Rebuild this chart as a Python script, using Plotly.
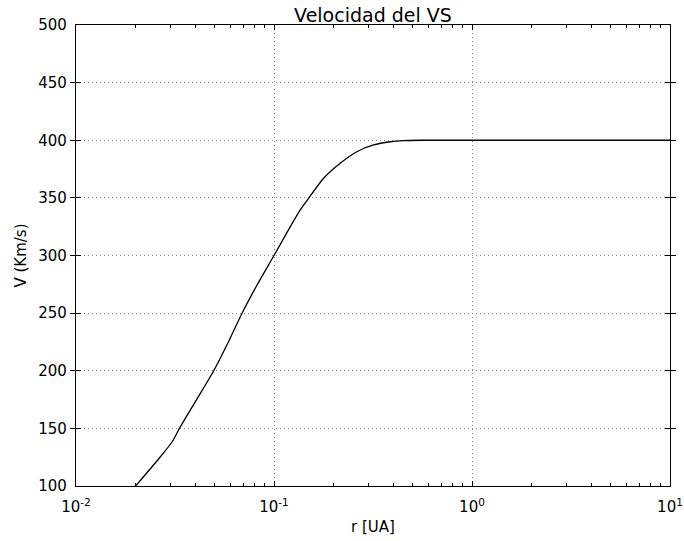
import plotly.graph_objects as go

# Data
r_values = [0.015, 0.02, 0.0267, 0.0306, 0.0333, 0.04, 0.0496, 0.06, 0.0676, 0.0821,
            0.1, 0.1209, 0.1357, 0.1495, 0.178, 0.216, 0.262, 0.318, 0.386, 0.45, 0.55,
            0.7, 1.0, 2.0, 5.0, 10.0]
v_values = [75, 100, 125.4, 138.4, 150, 173, 200, 228, 246.9, 274.4,
            300, 325, 339.5, 349.6, 367, 380, 390, 395.9, 398.7, 399.7, 400,
            400, 400, 400, 400, 400]

x_tick_vals = [0.01, 0.1, 1, 10]
x_tick_text = ["10<sup>-2</sup>", "10<sup>-1</sup>", "10<sup>0</sup>", "10<sup>1</sup>"]
x_minor_vals = [m * d for d in (0.01, 0.1, 1) for m in range(2, 10)]
y_tick_vals = [100, 150, 200, 250, 300, 350, 400, 450, 500]

FONT = "DejaVu Sans"

fig = go.Figure()
fig.add_trace(go.Scatter(x=r_values, y=v_values, mode="lines",
                         line=dict(color="black", width=1.3, shape="spline", smoothing=0.6),
                         showlegend=False, hoverinfo="skip"))
# invisible trace that carries the minor-tick axis
fig.add_trace(go.Scatter(x=[0.01, 10], y=[100, 100], xaxis="x2", mode="lines",
                         line=dict(width=0), showlegend=False, hoverinfo="skip"))

GRID = dict(showgrid=True, gridcolor="#888888", griddash="1px,3px", gridwidth=1)

fig.update_layout(
    width=684, height=541,
    margin=dict(l=76, r=14, t=25, b=55),
    paper_bgcolor="white", plot_bgcolor="white",
    font=dict(family=FONT, size=15, color="black"),
    title=dict(text="Velocidad del VS", x=0.5, xanchor="center", xref="paper",
               y=1, yref="paper", yanchor="bottom", pad=dict(b=3),
               font=dict(family=FONT, size=19, color="black")),
    xaxis=dict(
        type="log", range=[-2, 1], automargin=False,
        tickmode="array", tickvals=x_tick_vals, ticktext=x_tick_text,
        ticks="inside", ticklen=5, tickwidth=1, tickcolor="black",
        showline=True, linecolor="black", linewidth=1.2, mirror="allticks",
        zeroline=False, ticklabelstandoff=7,
        title=dict(text="r [UA]", standoff=6, font=dict(family=FONT, size=15)),
        **GRID,
    ),
    xaxis2=dict(type="log", range=[-2, 1], overlaying="x", anchor="y", side="bottom",
                automargin=False, tickmode="array", tickvals=x_minor_vals,
                showticklabels=False, ticks="inside", ticklen=3, tickwidth=1,
                tickcolor="black", mirror="allticks", showline=True,
                linecolor="black", linewidth=1.2,
                showgrid=False, zeroline=False),
    yaxis=dict(
        range=[100, 500], automargin=False,
        tickmode="array", tickvals=y_tick_vals,
        ticks="inside", ticklen=5, tickwidth=1, tickcolor="black",
        showline=True, linecolor="black", linewidth=1.2, mirror="allticks",
        zeroline=False, ticklabelstandoff=5,
        title=dict(text="V (Km/s)", standoff=8, font=dict(family=FONT, size=15)),
        **GRID,
    ),
)

fig.write_html("out.html")
